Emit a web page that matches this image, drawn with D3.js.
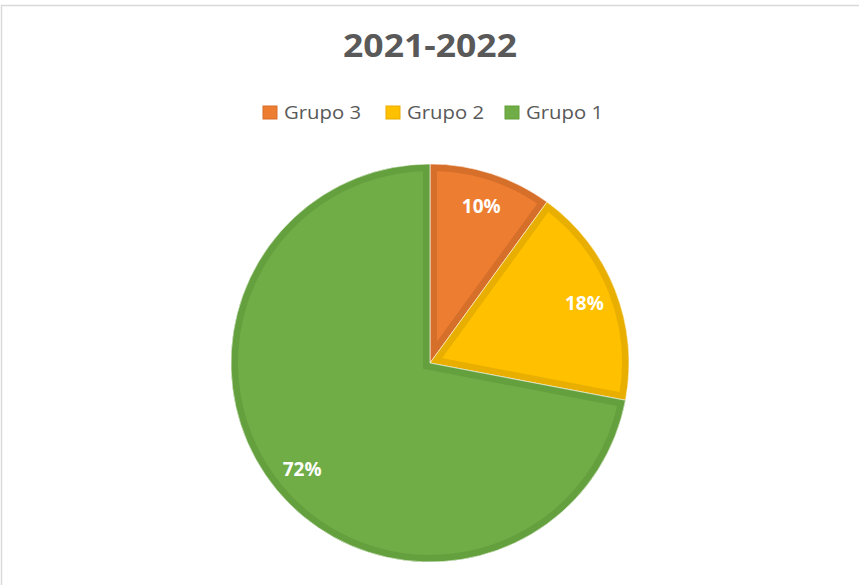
<!DOCTYPE html>
<html>
<head>
<meta charset="utf-8">
<script src="https://cdn.jsdelivr.net/npm/d3@7"></script>
<style>
  body { margin: 0; background: #fff; }
  svg { display: block; }
</style>
</head>
<body>
<div id="chart"></div>
<script>
var width = 859, height = 585;

// data, in the order Excel draws the slices (clockwise from 12 o'clock)
var groups = ["Grupo 3", "Grupo 2", "Grupo 1"];
var values = [10, 18, 72];
var labels = ["10%", "18%", "72%"];
var title = "2021-2022";

var fillColors = ["#ED7D31", "#FFC000", "#70AD47"];
var edgeColors = ["#D66F2A", "#E8AE00", "#64A03D"];

var cx = 430, cy = 363, radius = 199;

var svg = d3.select("#chart").append("svg")
    .attr("width", width)
    .attr("height", height);

// chart frame
svg.append("path")
    .attr("d", "M1.5," + height + " L1.5,5.5 L" + width + ",5.5")
    .attr("fill", "none")
    .attr("stroke", "#d9d9d9")
    .attr("stroke-width", 1.5);

svg.append("text")
    .attr("x", 430)
    .attr("y", 57)
    .attr("text-anchor", "middle")
    .attr("font-family", "'Open Sans', sans-serif")
    .attr("font-weight", "bold")
    .attr("font-size", 32)
    .attr("fill", "#595959")
    .attr("textLength", 174)
    .attr("lengthAdjust", "spacingAndGlyphs")
    .text(title);

// legend
var legendX = [263, 386, 505];
var legend = svg.append("g").selectAll("g")
    .data(groups)
  .enter().append("g")
    .attr("transform", function(d, i) { return "translate(" + legendX[i] + ",106)"; });

legend.append("rect")
    .attr("width", 14)
    .attr("height", 13)
    .attr("fill", function(d, i) { return fillColors[i]; })
    .attr("stroke", function(d, i) { return edgeColors[i]; })
    .attr("stroke-width", 1);

legend.append("text")
    .attr("x", 21)
    .attr("y", 12.5)
    .attr("font-family", "'Open Sans', sans-serif")
    .attr("font-size", 17.5)
    .attr("fill", "#595959")
    .attr("textLength", 77)
    .attr("lengthAdjust", "spacingAndGlyphs")
    .text(function(d) { return d; });

// pie
var pie = d3.pie().sort(null).value(function(d) { return d; });
var arcs = pie(values);
var arc = d3.arc().innerRadius(0).outerRadius(radius);
var labelArc = d3.arc().innerRadius(166).outerRadius(166);

var g = svg.append("g")
    .attr("transform", "translate(" + cx + "," + cy + ")");

var defs = svg.append("defs");
defs.selectAll("clipPath")
    .data(arcs)
  .enter().append("clipPath")
    .attr("id", function(d, i) { return "slice" + i; })
  .append("path")
    .attr("d", arc);

var slices = g.selectAll(".slice")
    .data(arcs)
  .enter().append("g")
    .attr("class", "slice");

slices.append("path")
    .attr("d", arc)
    .attr("fill", function(d, i) { return fillColors[i]; });

// darker border drawn inside the slice only
slices.append("path")
    .attr("d", arc)
    .attr("clip-path", function(d, i) { return "url(#slice" + i + ")"; })
    .attr("fill", "none")
    .attr("stroke", function(d, i) { return edgeColors[i]; })
    .attr("stroke-width", 14)
    .attr("stroke-linejoin", "miter");

// thin light seam between slices
slices.append("path")
    .attr("d", arc)
    .attr("fill", "none")
    .attr("stroke", "#ffffff")
    .attr("stroke-opacity", 0.6)
    .attr("stroke-width", 1);

g.selectAll(".label")
    .data(arcs)
  .enter().append("text")
    .attr("class", "label")
    .attr("transform", function(d) { return "translate(" + labelArc.centroid(d) + ")"; })
    .attr("text-anchor", "middle")
    .attr("dy", "0.4em")
    .attr("font-family", "'Open Sans', sans-serif")
    .attr("font-weight", "bold")
    .attr("font-size", 19)
    .attr("fill", "#ffffff")
    .text(function(d, i) { return labels[i]; });
</script>
</body>
</html>
